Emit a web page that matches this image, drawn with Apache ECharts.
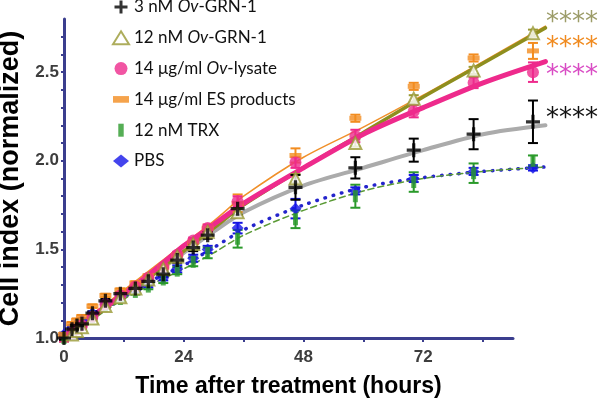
<!DOCTYPE html>
<html>
<head>
<meta charset="utf-8">
<script src="https://cdn.jsdelivr.net/npm/echarts@6/dist/echarts.min.js"></script>
<style>
  html, body { margin: 0; padding: 0; background: #fff; }
  #chart { width: 601px; height: 403px; }
</style>
</head>
<body>
<div id="chart"></div>
<script>
// measurement times (hours after treatment)
var times = [0, 1.6, 2.6, 3.6, 5.7, 8.3, 11.3, 14.3, 16.9, 19.9, 22.7, 25.9, 28.8, 34.8, 46.4, 58.4, 70.1, 82.1, 94.0];

// mean cell index per group
var grn3    = [1.00, 1.05, 1.07, 1.08, 1.14, 1.21, 1.25, 1.28, 1.32, 1.36, 1.44, 1.51, 1.58, 1.73, 1.85, 1.96, 2.06, 2.15, 2.22];
var grn12   = [0.99, 1.02, 1.04, 1.06, 1.11, 1.18, 1.23, 1.28, 1.33, 1.39, 1.46, 1.53, 1.60, 1.71, 1.90, 2.10, 2.35, 2.51, 2.72];
var lysate  = [0.99, 1.03, 1.05, 1.07, 1.12, 1.19, 1.24, 1.29, 1.34, 1.40, 1.47, 1.55, 1.62, 1.77, 1.99, 2.14, 2.28, 2.44, 2.50];
var esProd  = [1.02, 1.08, 1.10, 1.12, 1.18, 1.24, 1.27, 1.31, 1.35, 1.40, 1.47, 1.54, 1.62, 1.76, 2.03, 2.24, 2.42, 2.58, 2.62];
var trx     = [1.00, 1.04, 1.06, 1.08, 1.12, 1.18, 1.22, 1.26, 1.29, 1.33, 1.38, 1.43, 1.48, 1.56, 1.67, 1.80, 1.88, 1.93, 2.00];
var pbs     = [1.02, 1.06, 1.08, 1.10, 1.14, 1.20, 1.24, 1.27, 1.30, 1.34, 1.39, 1.45, 1.50, 1.62, 1.73, 1.83, 1.90, 1.94, 1.96];

// error (+/-)
var grn3Err   = [0.01, 0.01, 0.01, 0.01, 0.01, 0.01, 0.01, 0.01, 0.01, 0.015, 0.015, 0.02, 0.02, 0.035, 0.07, 0.06, 0.065, 0.085, 0.12];
var grn12Err  = [0.01, 0.01, 0.01, 0.01, 0.01, 0.01, 0.01, 0.01, 0.01, 0.01, 0.01, 0.015, 0.015, 0.02, 0.025, 0.02, 0.02, 0.02, 0.02];
var lysateErr = [0.01, 0.01, 0.01, 0.01, 0.01, 0.01, 0.01, 0.01, 0.01, 0.01, 0.015, 0.015, 0.02, 0.03, 0.03, 0.035, 0.035, 0.03, 0.055];
var esErr     = [0.01, 0.01, 0.01, 0.01, 0.01, 0.01, 0.01, 0.01, 0.01, 0.015, 0.015, 0.02, 0.02, 0.05, 0.04, 0.02, 0.02, 0.02, 0.045];
var trxErr    = [0.01, 0.01, 0.01, 0.01, 0.01, 0.01, 0.015, 0.015, 0.015, 0.02, 0.02, 0.025, 0.03, 0.05, 0.05, 0.065, 0.055, 0.055, 0.03];
var pbsErr    = [0.01, 0.01, 0.01, 0.01, 0.01, 0.01, 0.01, 0.01, 0.015, 0.015, 0.02, 0.02, 0.02, 0.03, 0.055, 0.02, 0.02, 0.02, 0.015];

// fitted curves, read at these hours
var fitTimes  = [0, 6, 12, 18, 24, 30, 36, 48, 60, 72, 84, 96.5];
var grn3Fit   = [1.0, 1.13, 1.25, 1.36, 1.48, 1.60, 1.71, 1.86, 1.96, 2.06, 2.15, 2.20];
var grn12Fit  = [1.0, 1.12, 1.24, 1.36, 1.49, 1.62, 1.75, 1.96, 2.16, 2.36, 2.55, 2.75];
var lysateFit = [1.0, 1.13, 1.25, 1.38, 1.52, 1.64, 1.76, 1.96, 2.15, 2.30, 2.44, 2.56];
var esFit     = [1.0, 1.14, 1.27, 1.40, 1.53, 1.66, 1.80, 2.02, 2.19, 2.37, 2.56, 2.76];
var trxFit    = [1.0, 1.11, 1.22, 1.31, 1.39, 1.48, 1.58, 1.72, 1.83, 1.90, 1.94, 1.965];
var pbsFit    = [1.0, 1.12, 1.23, 1.33, 1.41, 1.51, 1.61, 1.75, 1.85, 1.905, 1.94, 1.965];

// ticks
var xTicks  = [0, 12, 24, 36, 48, 60, 72, 84];
var xLabels = [0, 24, 48, 72];
var yTicks  = [1.0, 1.1, 1.2, 1.3, 1.4, 1.5, 1.6, 1.7, 1.8, 1.9, 2.0, 2.1, 2.2, 2.3, 2.4, 2.5, 2.6, 2.7];
var yLabels = [1.0, 1.5, 2.0, 2.5];

var names = ['3 nM Ov-GRN-1', '12 nM Ov-GRN-1', '14 μg/ml Ov-lysate', '14 μg/ml ES products', '12 nM TRX', 'PBS'];

var axisColor = '#3b3e8e';
var crossPath = 'path://M5,0h3v5h5v3h-5v5h-3v-5h-5v-3h5z';
var font = 'Liberation Sans';

function pts(xs, ys) {
  return xs.map(function (x, i) { return [x, ys[i]]; });
}
function errPts(xs, ys, es) {
  return xs.map(function (x, i) { return [x, ys[i] - es[i], ys[i] + es[i]]; });
}
function errRender(color) {
  return function (params, api) {
    var x = api.value(0);
    var lo = api.coord([x, api.value(1)]);
    var hi = api.coord([x, api.value(2)]);
    var w = 5;
    var st = { stroke: color, lineWidth: 2, fill: null };
    return {
      type: 'group',
      children: [
        { type: 'line', shape: { x1: lo[0], y1: lo[1], x2: hi[0], y2: hi[1] }, style: st },
        { type: 'line', shape: { x1: lo[0] - w, y1: lo[1], x2: lo[0] + w, y2: lo[1] }, style: st },
        { type: 'line', shape: { x1: hi[0] - w, y1: hi[1], x2: hi[0] + w, y2: hi[1] }, style: st }
      ]
    };
  };
}
// all data lives on the second (wider, hidden) grid so it can run past the drawn axis
function fitLine(ys, color, width, type) {
  return {
    type: 'line', xAxisIndex: 1, yAxisIndex: 1, data: pts(fitTimes, ys), smooth: 0.3,
    showSymbol: false, symbol: 'none', silent: true, z: 2,
    lineStyle: { color: color, width: width, type: type || 'solid', cap: 'round' }
  };
}
function errSeries(ys, es, color) {
  return {
    type: 'custom', xAxisIndex: 1, yAxisIndex: 1, data: errPts(times, ys, es),
    renderItem: errRender(color), encode: { x: 0, y: [1, 2] }, silent: true, z: 3
  };
}
function marks(name, ys, symbol, size, itemStyle) {
  return {
    type: 'scatter', name: name, xAxisIndex: 1, yAxisIndex: 1, data: pts(times, ys),
    symbol: symbol, symbolSize: size, itemStyle: itemStyle, z: 4
  };
}

var chart = echarts.init(document.getElementById('chart'));
chart.setOption({
  animation: false,
  grid: [
    { left: 64, right: 88, top: 19, bottom: 65, outerBoundsMode: 'none', containLabel: false },
    { left: 64, right: 38.1, top: 19, bottom: 65, outerBoundsMode: 'none', containLabel: false }
  ],
  legend: {
    orient: 'vertical', left: 107, top: -8, itemWidth: 16, itemHeight: 13, itemGap: 10.8,
    data: [
      { name: names[0] },
      { name: names[1] },
      { name: names[2] },
      { name: names[3], icon: 'path://M0,0h12v5h-12z' },
      { name: names[4], icon: 'path://M0,0h5v12h-5z' },
      { name: names[5] }
    ],
    formatter: function (n) { return n.replace('Ov', '{i|Ov}'); },
    textStyle: {
      fontFamily: 'Lato', fontSize: 17, color: '#111', lineHeight: 20,
      rich: { i: { fontFamily: 'Lato', fontSize: 17, fontStyle: 'italic', color: '#111', lineHeight: 20 } }
    }
  },
  xAxis: [{
    gridIndex: 0, type: 'value', min: 0, max: 90,
    name: 'Time after treatment (hours)', nameLocation: 'middle', nameGap: 37,
    nameTextStyle: { fontFamily: font, fontWeight: 'bold', fontSize: 23, color: '#000' },
    axisLine: { lineStyle: { color: axisColor, width: 3 } },
    axisTick: { customValues: xTicks, length: 4, lineStyle: { color: axisColor, width: 2 } },
    axisLabel: {
      customValues: xLabels, margin: 11,
      fontFamily: font, fontWeight: 'bold', fontSize: 17, color: '#3d3d3d'
    },
    splitLine: { show: false }
  }, {
    gridIndex: 1, type: 'value', min: 0, max: 100, show: false
  }],
  yAxis: [{
    gridIndex: 0, type: 'value', min: 1, max: 2.8,
    name: 'Cell index (normalized)', nameLocation: 'middle', nameGap: 33,
    nameTextStyle: { fontFamily: font, fontWeight: 'bold', fontSize: 27, color: '#000' },
    axisLine: { lineStyle: { color: axisColor, width: 3 } },
    axisTick: { customValues: yTicks, length: 3, lineStyle: { color: axisColor, width: 2 } },
    axisLabel: {
      customValues: yLabels, margin: 5,
      formatter: function (v) { return v.toFixed(1); },
      fontFamily: font, fontWeight: 'bold', fontSize: 17, color: '#3d3d3d'
    },
    splitLine: { show: false }
  }, {
    gridIndex: 1, type: 'value', min: 1, max: 2.8, show: false
  }],
  graphic: [
    { type: 'text', left: 546, top: 10, style: { text: '****', font: '26px DejaVu Sans', fill: '#9c9c68' } },
    { type: 'text', left: 546, top: 35, style: { text: '****', font: '26px DejaVu Sans', fill: '#f08a1e' } },
    { type: 'text', left: 546, top: 63, style: { text: '****', font: '26px DejaVu Sans', fill: '#d94cc4' } },
    { type: 'text', left: 546, top: 106, style: { text: '****', font: '26px DejaVu Sans', fill: '#111' } }
  ],
  series: [
    fitLine(pbsFit, '#2424cc', 3.5, [0.5, 8]),
    fitLine(trxFit, '#5a9a35', 1.5, [6, 4]),
    fitLine(grn3Fit, '#ababab', 4),
    fitLine(esFit, '#f0902a', 1.5),
    fitLine(grn12Fit, '#8e8e1e', 3.5),
    fitLine(lysateFit, '#ee2a8c', 5),
    errSeries(pbs, pbsErr, '#1515e0'),
    errSeries(trx, trxErr, '#2a9a2a'),
    errSeries(esProd, esErr, '#f28c1f'),
    errSeries(grn12, grn12Err, '#999933'),
    errSeries(lysate, lysateErr, '#ee2a8c'),
    errSeries(grn3, grn3Err, '#000'),
    marks(names[5], pbs, 'diamond', 12, { color: '#1515e8' }),
    marks(names[4], trx, 'rect', [5, 12], { color: '#2a9a2a' }),
    marks(names[3], esProd, 'rect', [12, 5], { color: '#f28c1f' }),
    marks(names[2], lysate, 'circle', 12, { color: '#ee2a8c' }),
    marks(names[1], grn12, 'triangle', 12, { color: '#fff', borderColor: '#999933', borderWidth: 2 }),
    marks(names[0], grn3, crossPath, 14, { color: '#000' })
  ]
});
</script>
</body>
</html>
